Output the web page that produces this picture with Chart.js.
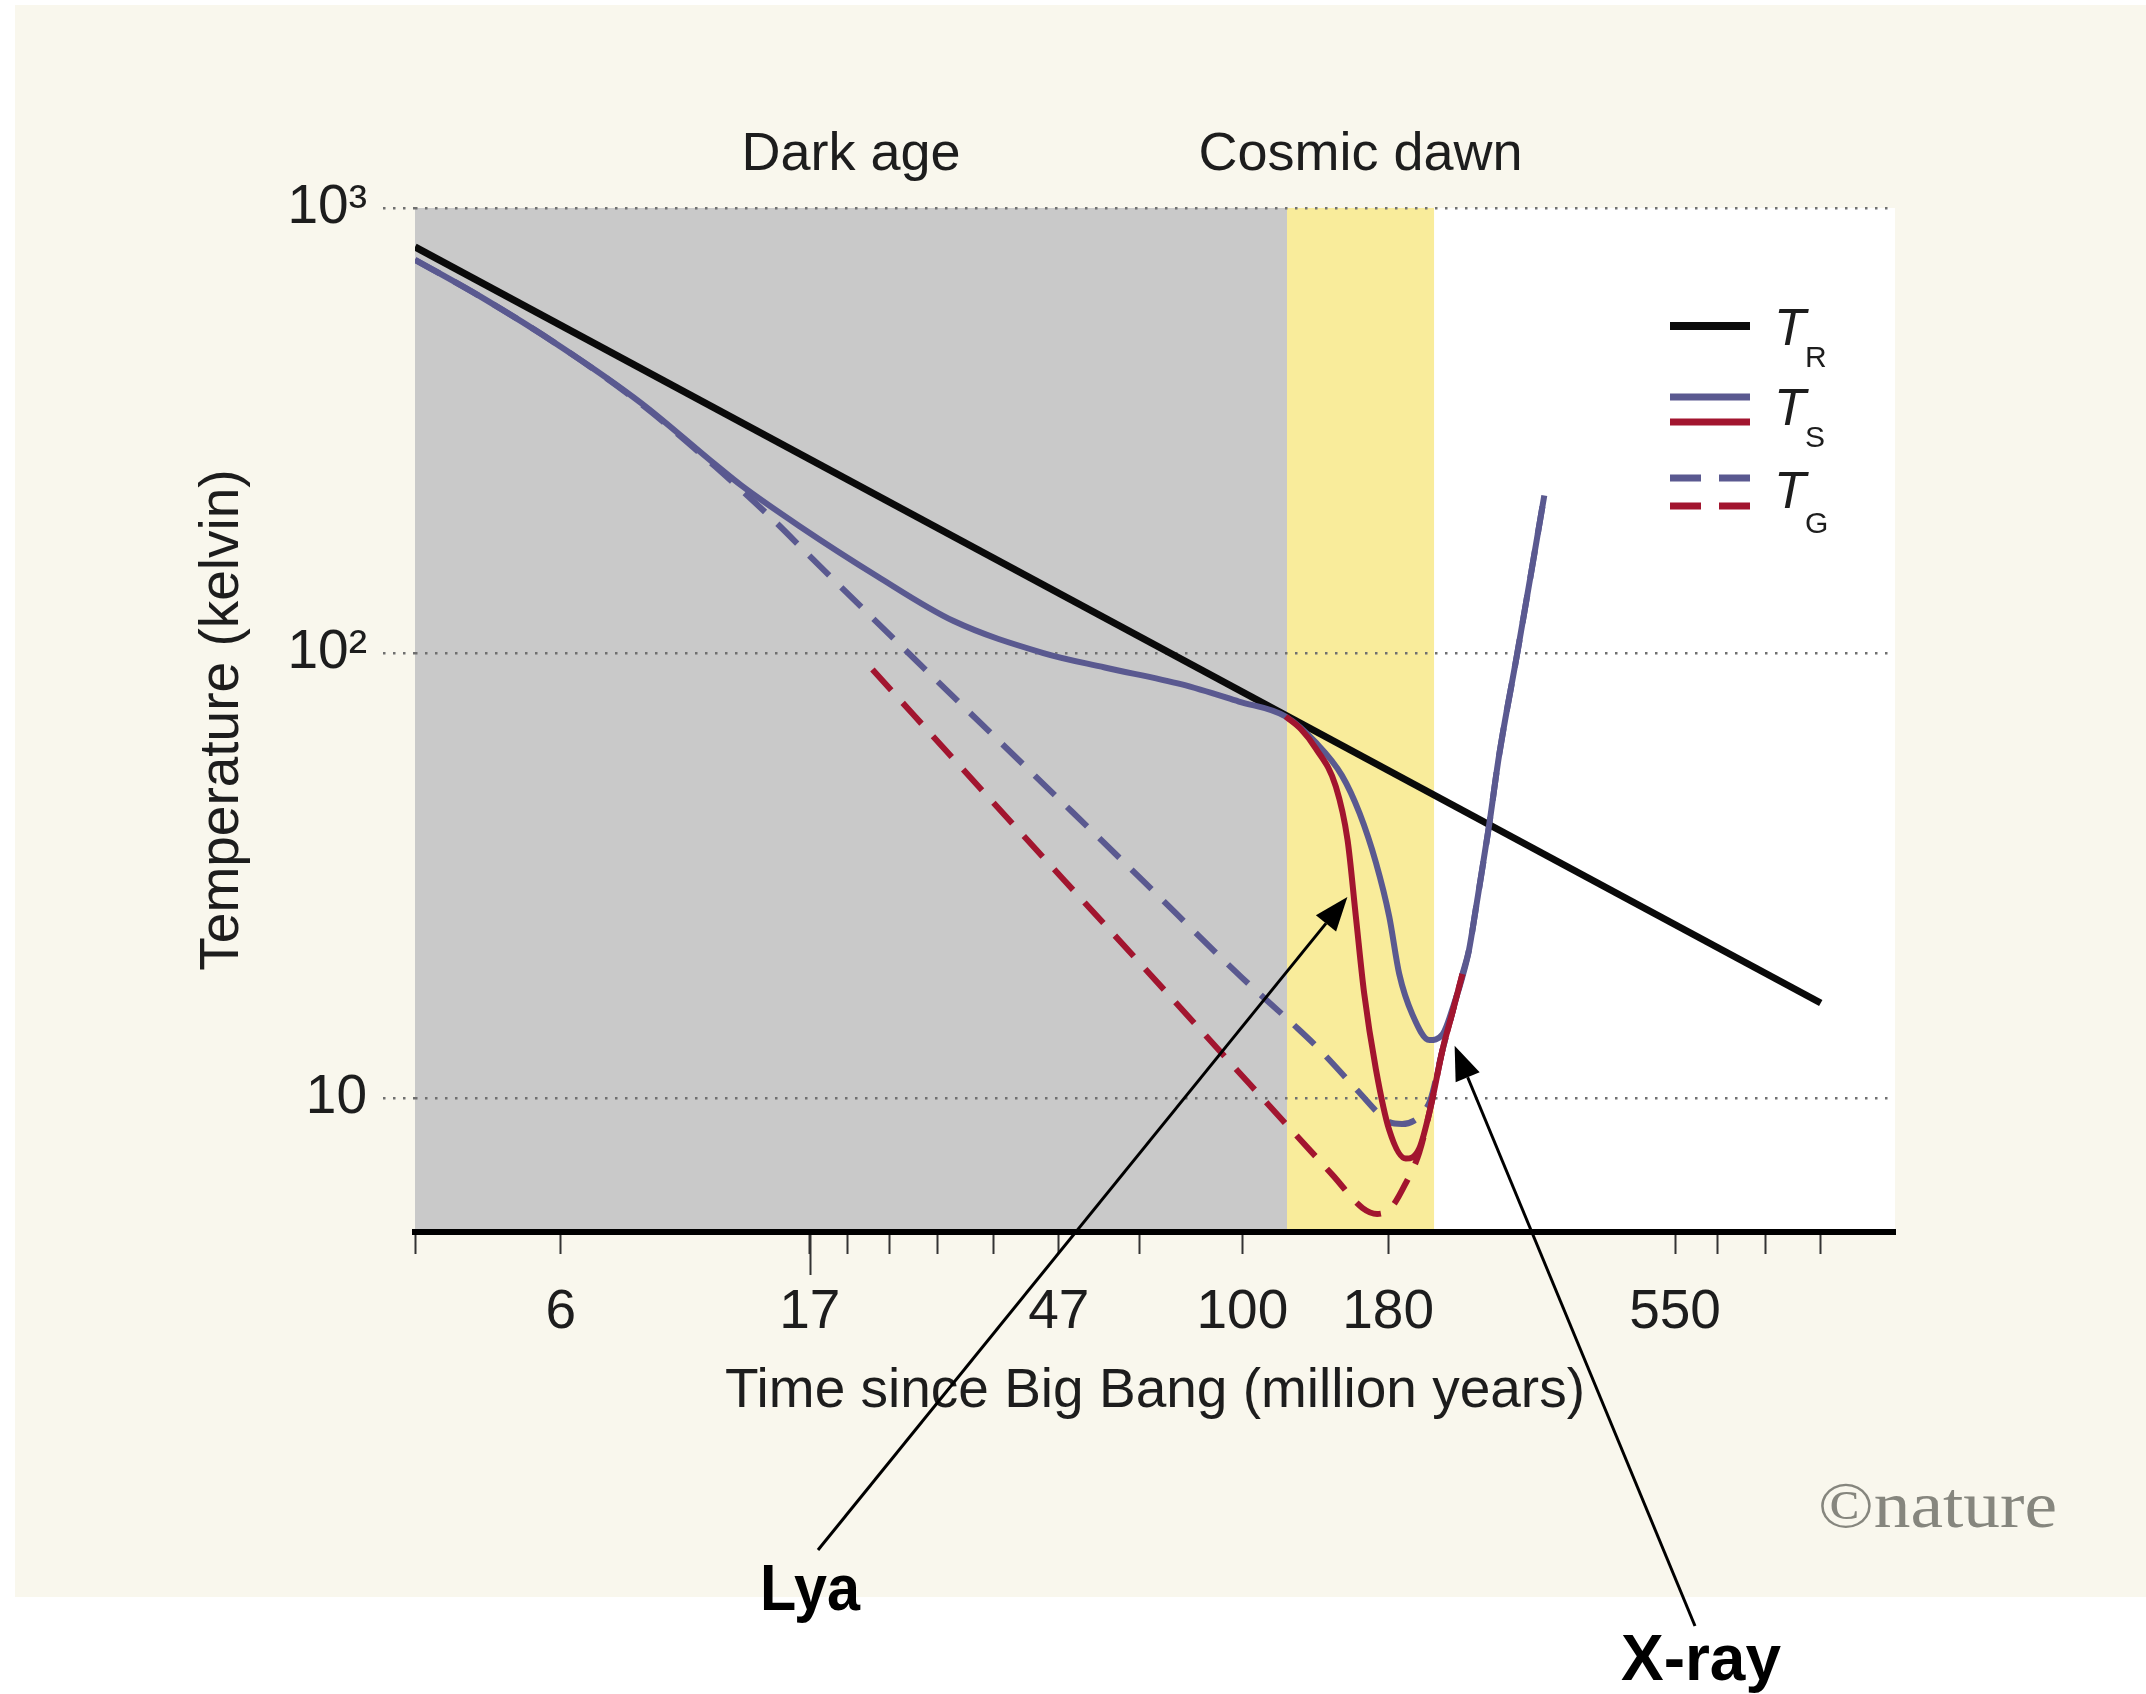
<!DOCTYPE html>
<html lang="en">
<head>
<meta charset="utf-8">
<title>Temperature history of the early Universe</title>
<script src="https://cdn.jsdelivr.net/npm/chart.js@4.4.1/dist/chart.umd.min.js"></script>
<style>
  html, body { margin: 0; padding: 0; background: #ffffff; }
  canvas { display: block; }
</style>
</head>
<body>
<canvas id="thermal" width="2146" height="1694"></canvas>
<script>
// Horizontal axis: 1+z on a reversed log scale, labelled with cosmic time (million years).
const xTickValues = [300, 200, 100, 90, 80, 70, 60, 50, 40, 30, 20, 9, 8, 7, 6];
const xTickLabels = ['', '6', '17', '', '', '', '', '47', '', '100', '180', '550', '', '', ''];
const xLongTicks = [100];
const xRange = [4.88, 300];

// Vertical axis: temperature in kelvin, log scale.
const yTickValues = [10, 100, 1000];
const yTickLabels = ['10', '10²', '10³'];
const yRange = [5, 1000];

// Epoch bands as 1+z boundaries.
const eraNames = ['Dark age', 'Cosmic dawn'];
const eraEdges = [300, 26.5, 17.6];

// Temperatures (K) against 1+z.
const tRadiation = [[300, 817.5], [6, 16.35]];

const tSpinStandard = [
  [300, 765], [250, 632], [200, 488], [160, 365], [130, 265], [121, 238],
  [103, 193], [83, 149], [67, 118], [52.2, 100], [44, 92.8], [35.5, 85], [30.3, 77.8],
  [26.6, 72], [24.45, 62.9], [22.75, 53.1], [21.65, 43.6], [20.69, 33.8], [19.94, 25.6],
  [19.39, 19.0], [18.69, 15.4], [17.83, 13.5], [17.19, 13.9], [16.59, 16.6], [16.28, 18.6],
  [15.97, 21.5], [15.67, 26.6], [15.1, 41], [14.69, 58.7], [13.96, 100], [13.38, 158], [12.95, 226]
];

const tGasStandard = [
  [300, 765], [250, 632], [200, 488], [160, 363], [130, 262], [110, 197],
  [100, 165], [76, 100], [50, 47], [40, 31.4], [30, 18.6], [26, 14.6], [24.45, 13.1],
  [21.68, 10.3], [20.5, 9.2], [19.94, 8.83], [19.24, 8.74], [18.6, 8.9], [18.18, 9.25],
  [17.77, 9.93], [17.19, 12.83], [16.72, 15.6], [16.26, 19.0], [15.97, 21.5], [15.67, 26.6],
  [15.1, 41], [14.69, 58.7], [13.96, 100], [13.38, 158], [12.95, 226]
];

const tSpinCooled = [
  [26.6, 72], [25.5, 67.5], [24.45, 61.0], [23.13, 50.1], [22.39, 38], [21.88, 25.6],
  [21.38, 17.2], [20.69, 11.6], [19.94, 8.48], [19.04, 7.31], [18.34, 7.70], [17.77, 9.54],
  [17.19, 12.83], [16.72, 15.6], [16.26, 19.0]
];

const tGasCooled = [
  [84, 91.8], [60, 46.1], [40, 20.2], [29.4, 10.75], [26.1, 8.43], [23.35, 6.72],
  [21.47, 5.66], [20.62, 5.49], [19.85, 5.66], [19.04, 6.44], [18.34, 7.54], [17.77, 9.54],
  [17.19, 12.83], [16.72, 15.6], [16.26, 19.0]
];

// Heating sources, pointing at (1+z, T).
const noteLabels = ['Lya', 'X-ray'];
const noteTips = [[22.4, 28.3], [16.62, 13.1]];

const sansFont = '"Liberation Sans", Arial, sans-serif';
const inkColor = '#1d1d1d';
const cmbColor = '#0a0a0a';
const stdColor = '#5a5990';
const coolColor = '#a2152f';
const gasDash = [28, 17];

function curve(label, data, color, width, dashed, order) {
  return {
    label, data,
    borderColor: color,
    borderWidth: width,
    borderDash: dashed ? gasDash : [],
    borderCapStyle: 'butt',
    pointRadius: 0,
    fill: false,
    tension: 0.4,
    cubicInterpolationMode: 'monotone',
    order
  };
}

// Page backdrop, plot area and epoch bands.
const backdrop = {
  id: 'backdrop',
  beforeDraw(chart) {
    const { ctx, chartArea: a, scales: { x } } = chart;
    ctx.save();
    ctx.fillStyle = '#ffffff';
    ctx.fillRect(0, 0, chart.width, chart.height);
    ctx.fillStyle = '#f9f7ed';
    ctx.fillRect(15, 5, chart.width - 15, 1592);
    ctx.fillStyle = '#ffffff';
    ctx.fillRect(a.left, a.top, a.right - a.left, a.bottom - a.top);
    const bandColors = ['#c9c9c9', '#f9ec9b'];
    for (let i = 0; i < eraNames.length; i++) {
      const x0 = x.getPixelForValue(eraEdges[i]);
      const x1 = x.getPixelForValue(eraEdges[i + 1]);
      ctx.fillStyle = bandColors[i];
      ctx.fillRect(x0, a.top, x1 - x0, a.bottom - a.top);
    }
    ctx.restore();
  }
};

// Epoch names, long ticks, legend, heating notes and credit line.
const overlay = {
  id: 'overlay',
  afterDraw(chart) {
    const { ctx, chartArea: a, scales: { x, y } } = chart;
    const ds = chart.data.datasets;
    ctx.save();

    // epoch names centred over their bands
    ctx.fillStyle = inkColor;
    ctx.font = '54px ' + sansFont;
    ctx.textAlign = 'center';
    ctx.textBaseline = 'alphabetic';
    for (let i = 0; i < eraNames.length; i++) {
      const cx = (x.getPixelForValue(eraEdges[i]) + x.getPixelForValue(eraEdges[i + 1])) / 2;
      ctx.fillText(eraNames[i], cx, a.top - 38);
    }

    // longer tick marks
    ctx.strokeStyle = '#333333';
    ctx.lineWidth = 2;
    for (const v of xLongTicks) {
      const px = Math.round(x.getPixelForValue(v)) + 0.5;
      ctx.beginPath();
      ctx.moveTo(px, a.bottom + 3);
      ctx.lineTo(px, a.bottom + 43);
      ctx.stroke();
    }

    // legend
    const rows = [
      { sub: 'R', sets: [2], lineY: [326], tY: 345, sY: 367 },
      { sub: 'S', sets: [3, 4], lineY: [397, 422], tY: 425, sY: 447 },
      { sub: 'G', sets: [0, 1], lineY: [478, 506], tY: 508, sY: 533 }
    ];
    const lx0 = 1670, lx1 = 1750;
    for (const r of rows) {
      r.sets.forEach((di, k) => {
        const d = ds[di];
        ctx.strokeStyle = d.borderColor;
        ctx.lineWidth = di === 2 ? 8 : 7;
        ctx.lineCap = 'butt';
        ctx.setLineDash(d.borderDash && d.borderDash.length ? [31, 18] : []);
        ctx.beginPath();
        ctx.moveTo(lx0, r.lineY[k]);
        ctx.lineTo(lx1, r.lineY[k]);
        ctx.stroke();
      });
      ctx.setLineDash([]);
      ctx.fillStyle = inkColor;
      ctx.textAlign = 'left';
      ctx.textBaseline = 'alphabetic';
      ctx.font = 'italic 52px ' + sansFont;
      ctx.fillText('T', 1774, r.tY);
      ctx.font = '30px ' + sansFont;
      ctx.fillText(r.sub, 1805, r.sY);
    }

    // heating notes with arrows
    const tails = [[818, 1550], [1695, 1626]];
    const textPos = [[810, 1610], [1701, 1680]];
    const textWidths = [100, 160];
    ctx.strokeStyle = '#000000';
    ctx.fillStyle = '#000000';
    noteTips.forEach((tip, i) => {
      const tx = x.getPixelForValue(tip[0]);
      const ty = y.getPixelForValue(tip[1]);
      const [sx, sy] = tails[i];
      const ang = Math.atan2(ty - sy, tx - sx);
      const headLen = 34, headHalf = 13;
      const bx = tx - headLen * Math.cos(ang);
      const by = ty - headLen * Math.sin(ang);
      ctx.lineWidth = 3;
      ctx.beginPath();
      ctx.moveTo(sx, sy);
      ctx.lineTo(bx, by);
      ctx.stroke();
      ctx.beginPath();
      ctx.moveTo(tx, ty);
      ctx.lineTo(bx + headHalf * Math.sin(ang), by - headHalf * Math.cos(ang));
      ctx.lineTo(bx - headHalf * Math.sin(ang), by + headHalf * Math.cos(ang));
      ctx.closePath();
      ctx.fill();

      ctx.save();
      ctx.font = 'bold 64px ' + sansFont;
      const tw = ctx.measureText(noteLabels[i]).width;
      ctx.translate(textPos[i][0], textPos[i][1]);
      ctx.scale(textWidths[i] / tw, 1);
      ctx.textAlign = 'center';
      ctx.textBaseline = 'alphabetic';
      ctx.fillText(noteLabels[i], 0, 0);
      ctx.restore();
    });

    // credit line
    ctx.save();
    ctx.font = '66px "Liberation Serif", "Times New Roman", serif';
    const credit = '©nature';
    const w = ctx.measureText(credit).width;
    ctx.translate(1818, 1527);
    ctx.scale(239 / w, 1);
    ctx.fillStyle = '#86867e';
    ctx.textAlign = 'left';
    ctx.textBaseline = 'alphabetic';
    ctx.fillText(credit, 0, 0);
    ctx.restore();

    ctx.restore();
  }
};

new Chart(document.getElementById('thermal'), {
  type: 'line',
  data: {
    datasets: [
      curve('T_G (standard)', tGasStandard, stdColor, 6, true, 5),
      curve('T_G (extra cooling)', tGasCooled, coolColor, 6, true, 4),
      curve('T_R', tRadiation, cmbColor, 7, false, 3),
      curve('T_S (standard)', tSpinStandard, stdColor, 6, false, 2),
      curve('T_S (extra cooling)', tSpinCooled, coolColor, 6, false, 1)
    ]
  },
  options: {
    responsive: false,
    animation: false,
    devicePixelRatio: 1,
    layout: { padding: { top: 208, right: 251, left: 0, bottom: 0 } },
    plugins: { legend: { display: false }, tooltip: { enabled: false } },
    scales: {
      x: {
        type: 'logarithmic',
        reverse: true,
        min: xRange[0],
        max: xRange[1],
        afterBuildTicks: s => { s.ticks = xTickValues.map(v => ({ value: v })); },
        afterFit: s => { s.height = 462; },
        ticks: {
          autoSkip: false, maxRotation: 0, minRotation: 0, padding: 26,
          color: inkColor, font: { family: sansFont, size: 55 },
          callback: (v, i) => xTickLabels[i]
        },
        grid: { drawOnChartArea: false, drawTicks: true, tickLength: 22, tickWidth: 2, tickColor: '#333333' },
        border: { display: true, color: '#000000', width: 6 },
        title: {
          display: true, text: 'Time since Big Bang (million years)',
          color: inkColor, font: { family: sansFont, size: 55 },
          padding: { top: 0, bottom: 269 }
        }
      },
      y: {
        type: 'logarithmic',
        min: yRange[0],
        max: yRange[1],
        afterBuildTicks: s => { s.ticks = yTickValues.map(v => ({ value: v })); },
        afterFit: s => { s.width = 415; },
        ticks: {
          padding: 16, color: inkColor, font: { family: sansFont, size: 55 },
          callback: (v, i) => yTickLabels[i]
        },
        grid: {
          color: '#6f6f6f', lineWidth: 2.5, drawTicks: true, tickLength: 32,
          tickColor: '#6f6f6f', tickWidth: 2.5, tickBorderDash: [2.5, 7.5]
        },
        border: { display: false, dash: [2.5, 7.5] },
        title: {
          display: true, text: 'Temperature (kelvin)',
          color: inkColor, font: { family: sansFont, size: 55 },
          padding: { top: 190, bottom: 0 }
        }
      }
    }
  },
  plugins: [backdrop, overlay]
});
</script>
</body>
</html>
